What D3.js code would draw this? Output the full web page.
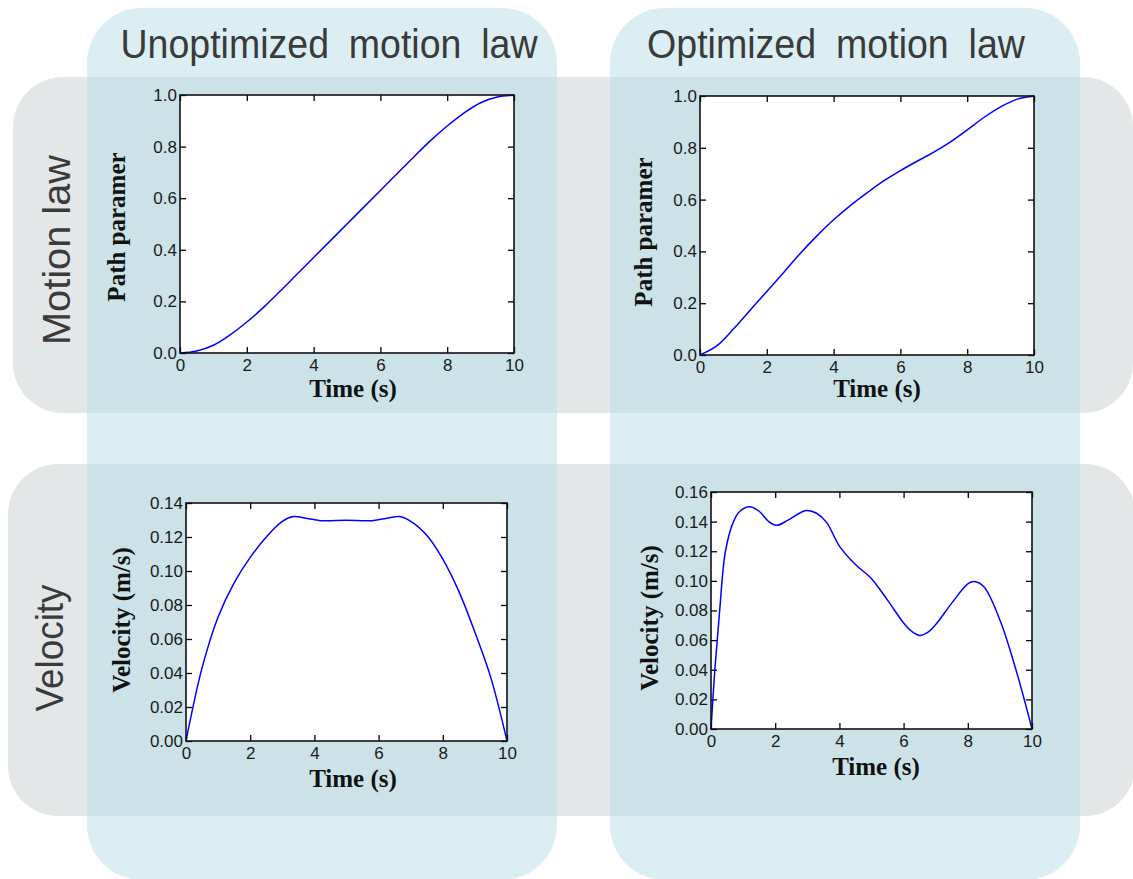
<!DOCTYPE html>
<html>
<head>
<meta charset="utf-8">
<script src="https://cdn.jsdelivr.net/npm/d3@7"></script>
<style>
  html, body { margin: 0; padding: 0; background: #fff; }
  svg { display: block; }
</style>
</head>
<body>
<svg id="chart" width="1133" height="879"></svg>
<script>
// ---- data ----
var timeTicks = [0, 2, 4, 6, 8, 10];
var pathTicks = [0, 0.2, 0.4, 0.6, 0.8, 1.0];
var velTicksUnopt = [0, 0.02, 0.04, 0.06, 0.08, 0.10, 0.12, 0.14];
var velTicksOpt = [0, 0.02, 0.04, 0.06, 0.08, 0.10, 0.12, 0.14, 0.16];

var columnTitles = ["Unoptimized motion law", "Optimized motion law"];
var rowTitles = ["Motion law", "Velocity"];

var pathUnoptTime = [0, 0.5, 1, 1.5, 2, 2.5, 3, 3.5, 4, 5, 6, 6.5, 7, 7.5, 8, 8.5, 9, 9.5, 10];
var pathUnopt = [0, 0.008, 0.03, 0.07, 0.12, 0.177, 0.24, 0.305, 0.37, 0.5, 0.63, 0.695, 0.76, 0.823, 0.88, 0.93, 0.97, 0.992, 1.0];

var pathOptTime = [0, 0.5, 1, 1.5, 2, 2.5, 3, 3.5, 4, 4.5, 5, 5.5, 6, 6.5, 7, 7.5, 8, 8.5, 9, 9.5, 10];
var pathOpt = [0, 0.035, 0.1, 0.173, 0.245, 0.318, 0.392, 0.46, 0.522, 0.577, 0.626, 0.672, 0.712, 0.748, 0.783, 0.823, 0.869, 0.917, 0.958, 0.988, 1.0];

var velUnoptTime = [0, 0.5, 1, 1.5, 2, 2.5, 3, 3.35, 3.7, 4.2, 5, 5.8, 6.3, 6.65, 7, 7.5, 8, 8.5, 9, 9.5, 10];
var velUnopt = [0, 0.043, 0.073, 0.093, 0.108, 0.12, 0.1292, 0.132, 0.1312, 0.1296, 0.1298, 0.1296, 0.1312, 0.132, 0.1292, 0.121, 0.107, 0.088, 0.064, 0.037, 0];

var velOptTime = [0, 0.12, 0.27, 0.45, 0.7, 0.9, 1.2, 1.5, 1.8, 2.05, 2.4, 2.96, 3.3, 3.6, 4, 4.5, 5, 5.5, 6, 6.25, 6.5, 6.75, 7, 7.5, 8, 8.2, 8.5, 9, 9.5, 10];
var velOpt = [0, 0.04, 0.08, 0.12, 0.14, 0.147, 0.15, 0.147, 0.14, 0.1375, 0.141, 0.1475, 0.1455, 0.1395, 0.1235, 0.111, 0.1015, 0.087, 0.0716, 0.066, 0.0632, 0.0652, 0.0705, 0.085, 0.098, 0.0995, 0.096, 0.0736, 0.04, 0];

// ---- layout ----
var svg = d3.select("#chart");
var colBlue = "#daeef3", rowGray = "#e4e7e8", overlap = "#cbe3e8";

var columns = [{x: 87, w: 470}, {x: 610, w: 470}];
var rows = [{x: 13, y: 77, w: 1120, h: 336}, {x: 8, y: 464, w: 1127, h: 352}];

var bg = svg.append("g");
bg.selectAll("rect.row").data(rows).join("rect")
    .attr("x", d => d.x).attr("y", d => d.y)
    .attr("width", d => d.w).attr("height", d => d.h)
    .attr("rx", 50).attr("ry", 50)
    .attr("fill", rowGray);
bg.selectAll("rect.col").data(columns).join("rect")
    .attr("x", d => d.x).attr("y", 8)
    .attr("width", d => d.w).attr("height", 872)
    .attr("rx", 55).attr("ry", 55)
    .attr("fill", colBlue);
// where a column crosses a row
columns.forEach(function (c) {
    rows.forEach(function (r) {
        bg.append("rect")
            .attr("x", c.x).attr("y", r.y)
            .attr("width", c.w).attr("height", r.h)
            .attr("fill", overlap);
    });
});

// headings
var headFont = "'Liberation Sans', Arial, sans-serif";
var colHead = [{cx: 329, len: 417}, {cx: 836, len: 378}];
svg.selectAll("text.colhead").data(columnTitles).join("text")
    .attr("class", "colhead")
    .attr("x", (d, i) => colHead[i].cx - colHead[i].len / 2)
    .attr("y", 58)
    .attr("textLength", (d, i) => colHead[i].len)
    .attr("lengthAdjust", "spacingAndGlyphs")
    .attr("font-family", headFont)
    .attr("font-size", 40)
    .attr("word-spacing", 10)
    .attr("fill", "#3a3a3a")
    .text(d => d);

var rowHead = [{x: 70, cy: 250, len: 190}, {x: 63, cy: 648, len: 127}];
svg.selectAll("text.rowhead").data(rowTitles).join("text")
    .attr("class", "rowhead")
    .attr("transform", (d, i) => "translate(" + rowHead[i].x + "," + (rowHead[i].cy + rowHead[i].len / 2) + ") rotate(-90)")
    .attr("textLength", (d, i) => rowHead[i].len)
    .attr("lengthAdjust", "spacingAndGlyphs")
    .attr("font-family", headFont)
    .attr("font-size", 38)
    .attr("fill", "#3a3a3a")
    .text(d => d);

// ---- panels ----
var panels = [
    {x0: 180, x1: 514, y0: 95, y1: 353, time: pathUnoptTime, vals: pathUnopt, yTicks: pathTicks, yMax: 1.0, fmt: ".1f",
     ylab: "Path paramer", ylx: 117, yly: 227, xlx: 353, xly: 397},
    {x0: 700, x1: 1034, y0: 96, y1: 355, time: pathOptTime, vals: pathOpt, yTicks: pathTicks, yMax: 1.0, fmt: ".1f",
     ylab: "Path paramer", ylx: 644, yly: 232, xlx: 877, xly: 397},
    {x0: 186, x1: 507, y0: 503, y1: 741, time: velUnoptTime, vals: velUnopt, yTicks: velTicksUnopt, yMax: 0.14, fmt: ".2f",
     ylab: "Velocity (m/s)", ylx: 122, yly: 620, xlx: 353, xly: 787},
    {x0: 711, x1: 1032, y0: 492, y1: 729, time: velOptTime, vals: velOpt, yTicks: velTicksOpt, yMax: 0.16, fmt: ".2f",
     ylab: "Velocity (m/s)", ylx: 650, yly: 618, xlx: 876, xly: 775}
];

var tickFont = "'Liberation Sans', Arial, sans-serif";
var labFont = "'Liberation Serif', 'Times New Roman', serif";

panels.forEach(function (p) {
    var x = d3.scaleLinear().domain([0, 10]).range([p.x0, p.x1]);
    var y = d3.scaleLinear().domain([0, p.yMax]).range([p.y1, p.y0]);
    var g = svg.append("g");

    g.append("rect")
        .attr("x", p.x0).attr("y", p.y0)
        .attr("width", p.x1 - p.x0).attr("height", p.y1 - p.y0)
        .attr("fill", "#fff");

    var bottom = g.append("g").attr("transform", "translate(0," + p.y1 + ")")
        .call(d3.axisBottom(x).tickValues(timeTicks).tickSizeInner(-6).tickSizeOuter(0)
            .tickPadding(6).tickFormat(d3.format("d")));
    var left = g.append("g").attr("transform", "translate(" + p.x0 + ",0)")
        .call(d3.axisLeft(y).tickValues(p.yTicks).tickSizeInner(-6).tickSizeOuter(0)
            .tickPadding(3).tickFormat(d3.format(p.fmt)));
    var top = g.append("g").attr("transform", "translate(0," + p.y0 + ")")
        .call(d3.axisTop(x).tickValues(timeTicks).tickSizeInner(-6).tickSizeOuter(0).tickFormat(""));
    var right = g.append("g").attr("transform", "translate(" + p.x1 + ",0)")
        .call(d3.axisRight(y).tickValues(p.yTicks).tickSizeInner(-6).tickSizeOuter(0).tickFormat(""));

    [bottom, left, top, right].forEach(function (a) {
        a.select(".domain").remove();
        a.selectAll("line").attr("stroke", "#000").attr("stroke-width", 1.3);
        a.selectAll("text").attr("font-family", tickFont).attr("font-size", 17).attr("fill", "#1a1a1a");
    });

    var line = d3.line()
        .x(d => x(d[0]))
        .y(d => y(d[1]))
        .curve(d3.curveCatmullRom.alpha(0.5));
    g.append("path")
        .datum(d3.zip(p.time, p.vals))
        .attr("d", line)
        .attr("fill", "none")
        .attr("stroke", "#0000ff")
        .attr("stroke-width", 1.5);

    g.append("rect")
        .attr("x", p.x0).attr("y", p.y0)
        .attr("width", p.x1 - p.x0).attr("height", p.y1 - p.y0)
        .attr("fill", "none")
        .attr("stroke", "#111")
        .attr("stroke-width", 1.6);

    g.append("text")
        .attr("transform", "translate(" + (p.ylx + 8) + "," + p.yly + ") rotate(-90)")
        .attr("text-anchor", "middle")
        .attr("font-family", labFont)
        .attr("font-weight", "bold")
        .attr("font-size", 25)
        .attr("fill", "#111")
        .text(p.ylab);

    g.append("text")
        .attr("x", p.xlx).attr("y", p.xly)
        .attr("text-anchor", "middle")
        .attr("font-family", labFont)
        .attr("font-weight", "bold")
        .attr("font-size", 25)
        .attr("fill", "#111")
        .text("Time (s)");
});
</script>
</body>
</html>
